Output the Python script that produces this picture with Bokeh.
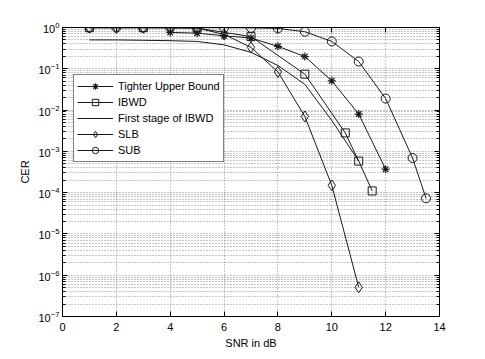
from bokeh.plotting import figure
from bokeh.models import (LinearAxis, LogAxis, Legend, LegendItem, FixedTicker,
                          CustomLabelingPolicy)
from bokeh.embed import file_html
from bokeh.resources import INLINE

# ---- data ----
snr_tub = [4, 5, 6, 7, 8, 9, 10, 11, 12]
cer_tub = [0.76, 0.73, 0.63, 0.555, 0.35, 0.198, 0.051, 0.0080, 3.7e-4]

snr_ibwd = [1, 3, 5, 7, 9, 10.5, 11, 11.5]
cer_ibwd = [0.99, 0.99, 0.97, 0.6, 0.074, 2.8e-3, 5.8e-4, 1.1e-4]

snr_fs = [1, 2, 3, 4, 5, 6, 7, 8, 9, 10, 11]
cer_fs = [0.5, 0.5, 0.49, 0.48, 0.46, 0.38, 0.25, 0.12, 0.042, 0.0056, 5.8e-4]

snr_slb = [1, 2, 3, 4, 5, 6, 7, 8, 9, 10, 11]
cer_slb = [0.99, 0.99, 0.99, 0.99, 0.97, 0.68, 0.33, 0.084, 0.0070, 1.5e-4, 5.1e-7]

snr_sub = [1, 2, 3, 4, 5, 6, 7, 8, 9, 10, 11, 12, 13, 13.5]
cer_sub = [0.99, 0.99, 0.99, 0.99, 0.99, 0.99, 0.98, 0.95, 0.79, 0.46, 0.15, 0.019, 6.9e-4, 7.3e-5]

x_ticks = [0, 2, 4, 6, 8, 10, 12, 14]
y_exponents = [-7, -6, -5, -4, -3, -2, -1, 0]

FONT = "Liberation Sans"
LC = "#1a1a1a"

y_ticks = [10.0 ** e for e in y_exponents]
y_minor = [m * 10.0 ** e for e in y_exponents[:-1] for m in range(2, 10)]

p = figure(width=477, height=351, x_range=(0, 14), y_range=(1e-7, 1),
           y_axis_type="log", output_backend="svg", toolbar_location=None,
           min_border_left=62, min_border_right=38, min_border_top=27,
           min_border_bottom=33, background_fill_color="white",
           border_fill_color="white")
p.outline_line_color = "black"
p.outline_line_width = 1

xt = FixedTicker(ticks=x_ticks)
yt = FixedTicker(ticks=y_ticks, minor_ticks=y_minor)

def style_axis(ax):
    ax.axis_line_color = "black"
    ax.major_tick_in = 5
    ax.major_tick_out = 0
    ax.minor_tick_in = 3
    ax.minor_tick_out = 0
    ax.major_tick_line_color = "black"
    ax.minor_tick_line_color = "black"
    ax.major_label_text_font = FONT
    ax.major_label_text_color = "black"
    ax.major_label_text_font_size = "11px"
    ax.axis_label_text_font = FONT
    ax.axis_label_text_font_size = "11px"
    ax.axis_label_text_font_style = "normal"
    ax.axis_label_text_color = "black"

xa = p.xaxis[0]
xa.ticker = xt
style_axis(xa)
xa.minor_tick_line_color = None
xa.major_label_standoff = 6
xa.axis_label = "SNR in dB"
xa.axis_label_standoff = 3

ya = p.yaxis[0]
ya.ticker = yt
style_axis(ya)
ya.major_label_standoff = 3
ya.axis_label = "CER"
ya.axis_label_standoff = 4

top = LinearAxis(ticker=xt)
style_axis(top)
top.minor_tick_line_color = None
top.major_label_standoff = 0
top.major_label_policy = CustomLabelingPolicy(code="return new Set()")
p.add_layout(top, "above")

right = LogAxis(ticker=yt)
style_axis(right)
right.major_label_standoff = 0
right.major_label_policy = CustomLabelingPolicy(code="return new Set()")
p.add_layout(right, "right")

for g in (p.xgrid[0], p.ygrid[0]):
    g.grid_line_color = "#8c8c8c"
    g.grid_line_dash = "1 2"
    g.grid_line_width = 1
p.xgrid[0].ticker = xt
p.ygrid[0].ticker = yt
p.ygrid[0].minor_grid_line_color = "#8c8c8c"
p.ygrid[0].minor_grid_line_dash = "1 2"

items = []

l1 = p.line(snr_tub, cer_tub, line_color=LC, line_width=1)
m1 = p.scatter(snr_tub, cer_tub, marker="asterisk", size=8, line_color=LC,
               fill_alpha=0, line_width=1.2)
items.append(LegendItem(label="Tighter Upper Bound", renderers=[l1, m1]))

l2 = p.line(snr_ibwd, cer_ibwd, line_color=LC, line_width=1)
m2 = p.scatter(snr_ibwd, cer_ibwd, marker="square", size=8, line_color=LC,
               fill_alpha=0, line_width=1)
items.append(LegendItem(label="IBWD", renderers=[l2, m2]))

l3 = p.line(snr_fs, cer_fs, line_color=LC, line_width=1)
items.append(LegendItem(label="First stage of IBWD", renderers=[l3]))

l4 = p.line(snr_slb, cer_slb, line_color=LC, line_width=1)
m4 = p.scatter(snr_slb, cer_slb, marker="diamond", size=11, line_color=LC,
               fill_alpha=0, line_width=1)
items.append(LegendItem(label="SLB", renderers=[l4, m4]))

l5 = p.line(snr_sub, cer_sub, line_color=LC, line_width=1)
m5 = p.scatter(snr_sub, cer_sub, marker="circle", size=9, line_color=LC,
               fill_alpha=0, line_width=1)
items.append(LegendItem(label="SUB", renderers=[l5, m5]))

legend = Legend(items=items, location=(11, 154))
legend.label_text_font = FONT
legend.label_text_font_size = "11px"
legend.label_text_color = "black"
legend.border_line_color = "black"
legend.border_line_width = 1
legend.background_fill_color = "white"
legend.background_fill_alpha = 1
legend.glyph_width = 36
legend.glyph_height = 16
legend.label_height = 16
legend.label_standoff = 5
legend.spacing = 0
legend.padding = 3
legend.margin = 0
p.add_layout(legend)

open("out.html", "w").write(file_html(p, INLINE))
